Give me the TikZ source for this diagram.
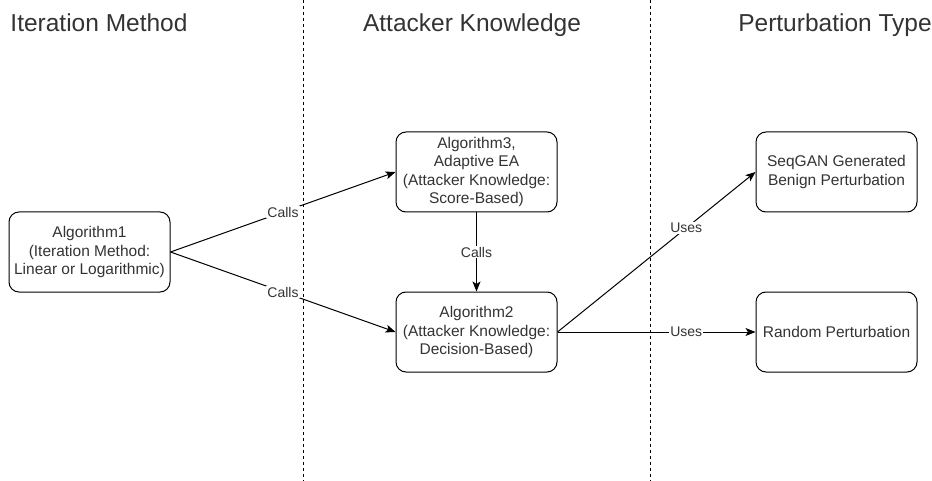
\documentclass[tikz,border=0pt]{standalone}
\usepackage{fontspec}
\setmainfont{Liberation Sans}
\usetikzlibrary{arrows.meta}
\definecolor{txt}{HTML}{333333}

\begin{document}
\begin{tikzpicture}[x=1pt,y=-1pt,
  box/.style={draw, rounded corners=10pt, minimum width=161pt, minimum height=80pt,
    align=center, text=txt, font=\fontsize{15.5}{18.5}\selectfont, line width=1pt, inner sep=0pt},
  conn/.style={line width=1pt, -{Stealth[length=10pt,width=8pt,inset=2.5pt]}},
  lbl/.style={fill=white, text=txt, font=\fontsize{14}{16}\selectfont, inner sep=1pt},
  head/.style={text=txt, font=\fontsize{24.5}{28}\selectfont, anchor=base},
  sep/.style={dash pattern=on 3pt off 3pt, line width=0.9pt}]

\useasboundingbox (0,0) rectangle (932,481);

% column separators
\coordinate (s1top) at (303,0);
\coordinate (s1bot) at (303,481);
\coordinate (s2top) at (650,0);
\coordinate (s2bot) at (650,481);
\draw[sep] (s1top) -- (s1bot);
\draw[sep] (s2top) -- (s2bot);

% column headings
\node[head] (h1) at (99,32) {Iteration Method};
\node[head] (h2) at (472,32) {Attacker Knowledge};
\node[head] (h3) at (835,32) {Perturbation Type};

% boxes
\node[box] (alg1) at (89.5,252) {Algorithm1\\(Iteration Method:\\Linear or Logarithmic)};
\node[box] (alg3) at (476.5,172) {Algorithm3,\\Adaptive EA\\(Attacker Knowledge:\\Score-Based)};
\node[box] (alg2) at (476.5,332) {Algorithm2\\(Attacker Knowledge:\\Decision-Based)};
\node[box] (seq) at (836.5,172) {SeqGAN Generated\\Benign Perturbation};
\node[box] (rnd) at (836.5,332) {Random Perturbation};

% connectors
\draw[conn] (alg1.east) -- node[lbl] {Calls} (alg3.west);
\draw[conn] (alg1.east) -- node[lbl] {Calls} (alg2.west);
\draw[conn] (alg3.south) -- node[lbl] {Calls} (alg2.north);
\draw[conn] (alg2.east) -- node[lbl, pos=0.65] {Uses} (seq.west);
\draw[conn] (alg2.east) -- node[lbl, pos=0.65] {Uses} (rnd.west);
\end{tikzpicture}
\end{document}
